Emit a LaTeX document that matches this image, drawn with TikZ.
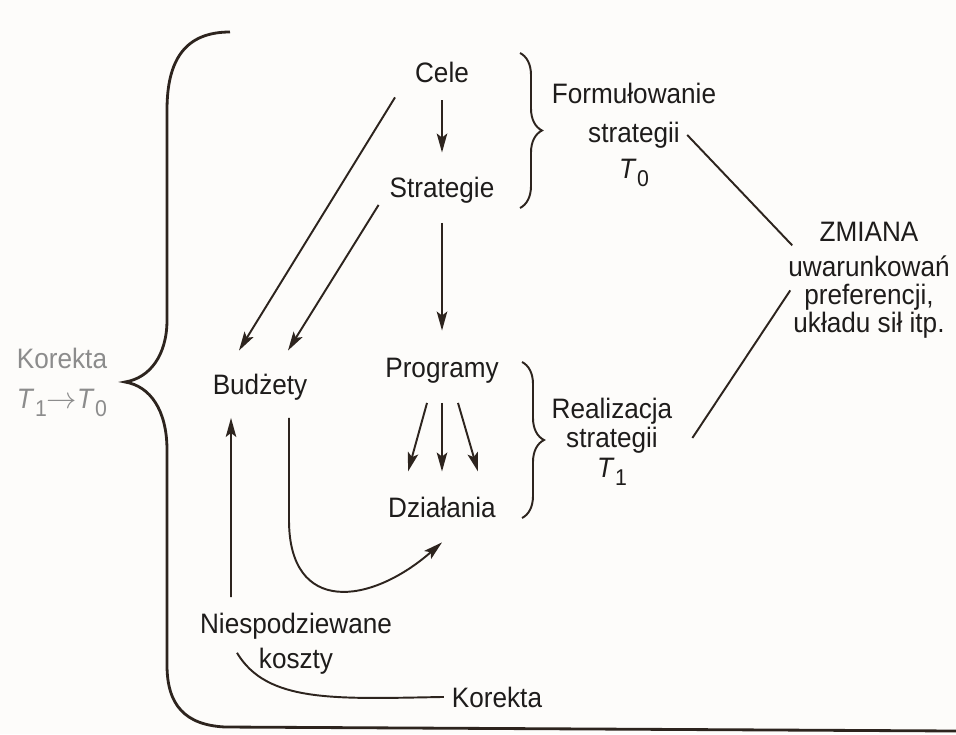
\documentclass[tikz,border=0pt]{standalone}
\usepackage{fontspec}
\setmainfont[FakeStretch=0.93]{Liberation Sans}
\usetikzlibrary{arrows.meta,decorations.pathreplacing}

\definecolor{ink}{RGB}{45,36,30}
\definecolor{textc}{RGB}{30,28,27}
\definecolor{greyc}{RGB}{140,140,140}
\definecolor{paper}{RGB}{253,252,250}

\newcommand{\Tind}[1]{\textit{T}\kern0.3pt\raisebox{-0.3em}{\fontsize{13}{13}\selectfont#1}}

\begin{document}
\begin{tikzpicture}[x=0.02cm,y=-0.02cm]
	\tikzstyle{txt} = [inner sep=1pt,align=center,text=textc,font=\fontsize{16}{16}\selectfont]
	\tikzstyle{arr} = [draw=ink,line width=1.1pt,-{Stealth[length=0.38cm,width=0.21cm,inset=0.08cm]}]
	\tikzstyle{conn} = [draw=ink,line width=1.1pt]
	\tikzstyle{brc} = [draw=ink,line width=1.1pt,decorate,decoration={brace,amplitude=0.44cm}]
	\useasboundingbox (0,0) rectangle (956,734);
	\fill[paper] (0,0) rectangle (956,734);

	\node (cele) [txt,anchor=base] at (442,82) {Cele};
	\node (strategie) [txt,anchor=base] at (442,197) {Strategie};
	\node (programy) [txt,anchor=base] at (442,377) {Programy};
	\node (dzialania) [txt,anchor=base] at (442,517) {Działania};
	\node (budzety) [txt,anchor=base] at (260,394) {Budżety};
	\node (koszty) [txt,anchor=north] at (296,611) {Niespodziewane\\[4pt]koszty};
	\node (korekta) [txt,anchor=base] at (497,707) {Korekta};
	\node (formulowanie) [txt,anchor=north] at (634,81) {Formułowanie\\[6pt]strategii\\[4.5pt]\Tind{0}};
	\node (realizacja) [txt,anchor=north] at (612,396) {Realizacja\\[0.5pt]strategii\\[1pt]\Tind{1}};
	\node (zmiana) [txt,anchor=north] at (869,220) {ZMIANA\\[4pt]uwarunkowań\\preferencji,\\układu sił itp.};
	\node (korektat) [txt,text=greyc,anchor=north] at (62,346) {Korekta\\[6.5pt]\Tind{1}$\rightarrow$\Tind{0}};

	\draw[arr,shorten <=0.32cm,shorten >=0.44cm] (cele.south) -- (strategie.north);
	\draw[arr,shorten <=0.36cm,shorten >=0.5cm] (strategie.south) -- (programy.north);
	\draw[arr] ([xshift=-0.3cm,yshift=-0.36cm]programy.south) -- ([xshift=-0.68cm,yshift=0.46cm]dzialania.north);
	\draw[arr] ([yshift=-0.36cm]programy.south) -- ([yshift=0.46cm]dzialania.north);
	\draw[arr] ([xshift=0.32cm,yshift=-0.36cm]programy.south) -- ([xshift=0.72cm,yshift=0.46cm]dzialania.north);
	\draw[arr] ([xshift=-0.36cm,yshift=-0.26cm]cele.south west) -- ([xshift=-0.42cm,yshift=0.42cm]budzety.north);
	\draw[arr] ([xshift=-0.18cm]strategie.south west) -- ([xshift=0.56cm,yshift=0.42cm]budzety.north);
	\draw[arr] ([xshift=0.58cm,yshift=-0.32cm]budzety.south) -- ++(0,102) .. controls +(0,95) and +(-72,63) .. ([yshift=-0.46cm]dzialania.south);
	\draw[arr] ([xshift=-1.3cm,yshift=0.28cm]koszty.north) -- ([xshift=-0.58cm,yshift=-0.32cm]budzety.south);
	\draw[conn] ([xshift=0.78cm,yshift=-0.18cm]koszty.west) .. controls +(30,50) and +(-110,2) .. ([xshift=-0.12cm]korekta.west);
	\draw[conn] ([xshift=-0.62cm]formulowanie.east) -- ([xshift=0.12cm,yshift=0.7cm]zmiana.west);
	\draw[conn] ([xshift=0.36cm,yshift=0.08cm]realizacja.east) -- ([xshift=0.08cm,yshift=-0.2cm]zmiana.west);

	% braces
	\draw[brc] (520,53) -- (520,208);
	\draw[brc] (522,362) -- (522,518);
	\draw[draw=ink,line width=1.6pt] (230,32) .. controls (185,32) and (167,60) .. (167,110) -- (167,320)
		.. controls (167,355) and (150,378) .. (125,382) .. controls (150,386) and (167,410) .. (167,450)
		-- (167,665) .. controls (167,705) and (185,725) .. (225,727) -- (956,731);
\end{tikzpicture}
\end{document}
